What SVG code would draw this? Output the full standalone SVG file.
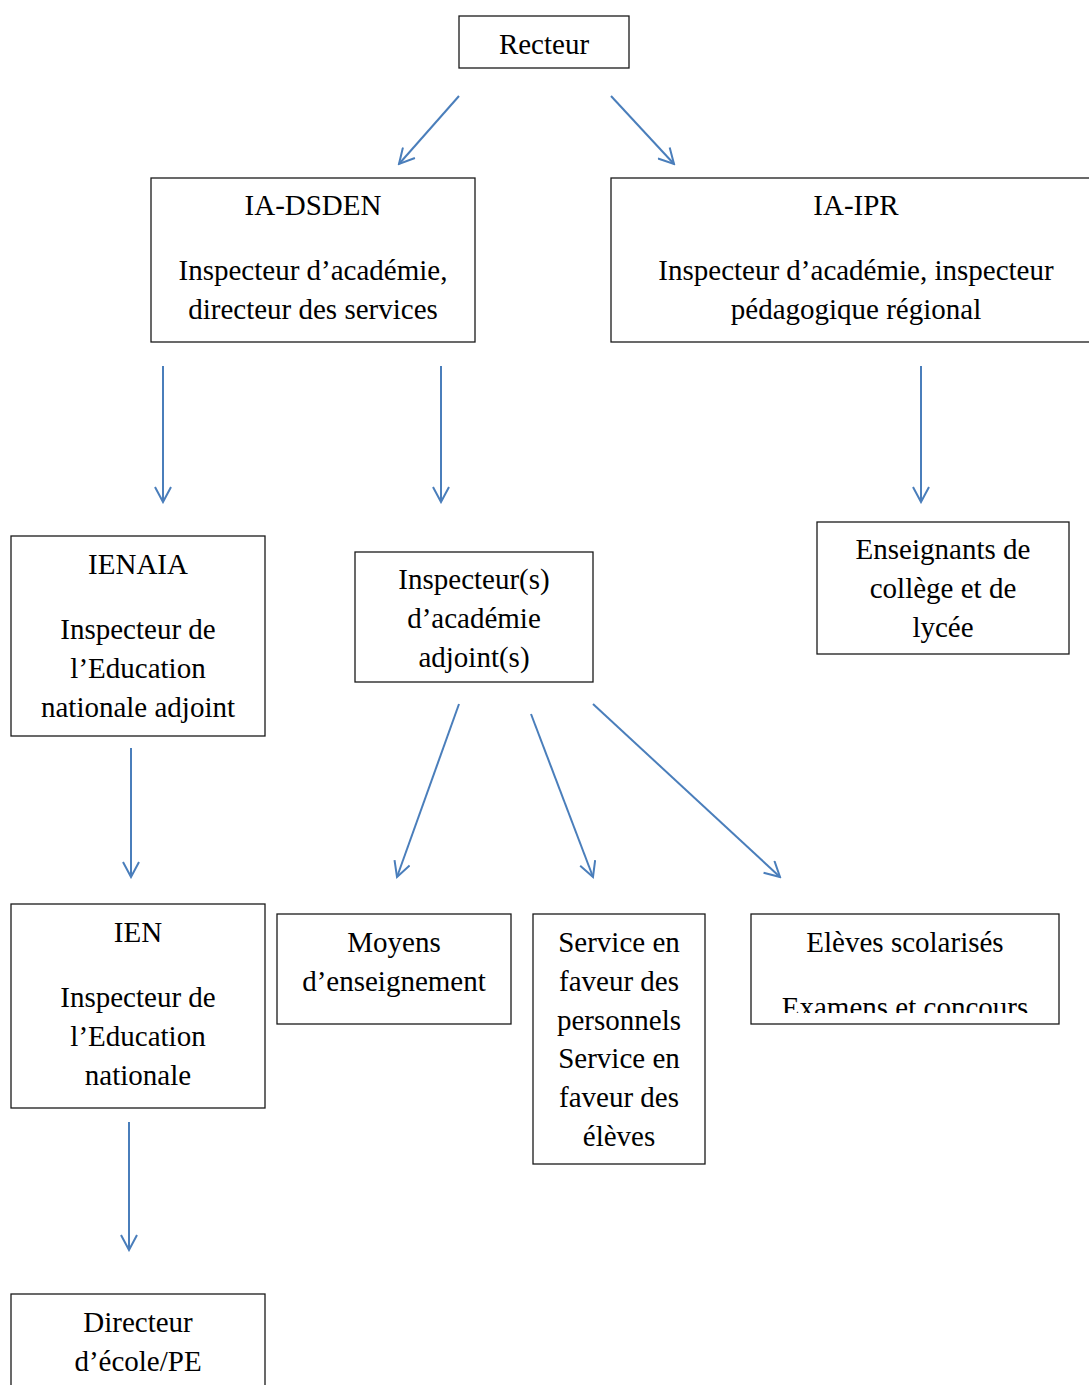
<svg xmlns="http://www.w3.org/2000/svg" width="1089" height="1385" viewBox="0 0 1089 1385">
<style>
.box{fill:#fff;stroke:#1a1a1a;stroke-width:1.3}
.t{font-family:"Liberation Serif","Times New Roman",serif;font-size:29px;fill:#000;text-anchor:middle}
.c{stroke:#4a7ebb;stroke-width:2;fill:none}
</style>
<defs>
<marker id="ah" viewBox="0 0 18 18" refX="16" refY="9" markerWidth="18" markerHeight="18" orient="auto" markerUnits="userSpaceOnUse">
<path d="M1,1 L16,9 L1,17" fill="none" stroke="#4a7ebb" stroke-width="2"/>
</marker>
<clipPath id="clipEl"><rect x="751" y="914" width="308" height="99"/></clipPath>
</defs>
<rect width="1089" height="1385" fill="#fff"/>
<g id="connectors">
<line class="c" x1="459" y1="96" x2="399" y2="164" marker-end="url(#ah)"/>
<line class="c" x1="611" y1="96" x2="674" y2="164" marker-end="url(#ah)"/>
<line class="c" x1="163" y1="366" x2="163" y2="502" marker-end="url(#ah)"/>
<line class="c" x1="441" y1="366" x2="441" y2="502" marker-end="url(#ah)"/>
<line class="c" x1="921" y1="366" x2="921" y2="502" marker-end="url(#ah)"/>
<line class="c" x1="131" y1="748" x2="131" y2="877" marker-end="url(#ah)"/>
<line class="c" x1="459" y1="704" x2="397" y2="877" marker-end="url(#ah)"/>
<line class="c" x1="531" y1="714" x2="593" y2="877" marker-end="url(#ah)"/>
<line class="c" x1="593" y1="704" x2="780" y2="877" marker-end="url(#ah)"/>
<line class="c" x1="129" y1="1122" x2="129" y2="1250" marker-end="url(#ah)"/>
</g>
<g id="recteur">
<rect class="box" x="459" y="16" width="170" height="52"/>
<text class="t" x="544" y="54">Recteur</text>
</g>
<g id="ia-dsden">
<rect class="box" x="151" y="178" width="324" height="164"/>
<text class="t" x="313" y="215">IA-DSDEN</text>
<text class="t" x="313" y="280">Inspecteur d’académie,</text>
<text class="t" x="313" y="319">directeur des services</text>
</g>
<g id="ia-ipr">
<rect class="box" x="611" y="178" width="490" height="164"/>
<text class="t" x="856" y="215">IA-IPR</text>
<text class="t" x="856" y="280">Inspecteur d’académie, inspecteur</text>
<text class="t" x="856" y="319">pédagogique régional</text>
</g>
<g id="ienaia">
<rect class="box" x="11" y="536" width="254" height="200"/>
<text class="t" x="138" y="574">IENAIA</text>
<text class="t" x="138" y="639">Inspecteur de</text>
<text class="t" x="138" y="678">l’Education</text>
<text class="t" x="138" y="717">nationale adjoint</text>
</g>
<g id="adjoints">
<rect class="box" x="355" y="552" width="238" height="130"/>
<text class="t" x="474" y="589">Inspecteur(s)</text>
<text class="t" x="474" y="628">d’académie</text>
<text class="t" x="474" y="667">adjoint(s)</text>
</g>
<g id="enseignants">
<rect class="box" x="817" y="522" width="252" height="132"/>
<text class="t" x="943" y="559">Enseignants de</text>
<text class="t" x="943" y="598">collège et de</text>
<text class="t" x="943" y="637">lycée</text>
</g>
<g id="ien">
<rect class="box" x="11" y="904" width="254" height="204"/>
<text class="t" x="138" y="942">IEN</text>
<text class="t" x="138" y="1007">Inspecteur de</text>
<text class="t" x="138" y="1046">l’Education</text>
<text class="t" x="138" y="1085">nationale</text>
</g>
<g id="moyens">
<rect class="box" x="277" y="914" width="234" height="110"/>
<text class="t" x="394" y="952">Moyens</text>
<text class="t" x="394" y="991">d’enseignement</text>
</g>
<g id="service">
<rect class="box" x="533" y="914" width="172" height="250"/>
<text class="t" x="619" y="952">Service en</text>
<text class="t" x="619" y="991">faveur des</text>
<text class="t" x="619" y="1030">personnels</text>
<text class="t" x="619" y="1068">Service en</text>
<text class="t" x="619" y="1107">faveur des</text>
<text class="t" x="619" y="1146">élèves</text>
</g>
<g id="eleves">
<rect class="box" x="751" y="914" width="308" height="110"/>
<text class="t" x="905" y="952">Elèves scolarisés</text>
<text class="t" x="905" y="1017" clip-path="url(#clipEl)">Examens et concours</text>
</g>
<g id="directeur">
<rect class="box" x="11" y="1294" width="254" height="120"/>
<text class="t" x="138" y="1332">Directeur</text>
<text class="t" x="138" y="1371">d’école/PE</text>
</g>
</svg>
